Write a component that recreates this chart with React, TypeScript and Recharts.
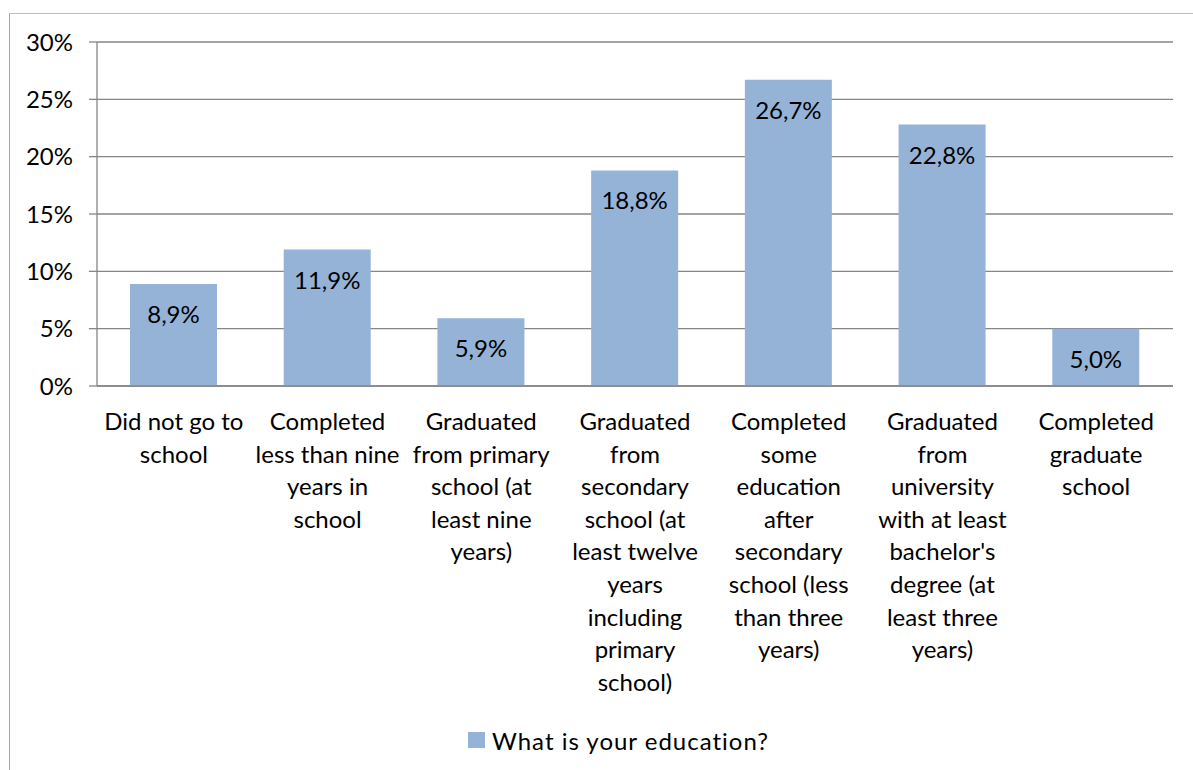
import { BarChart, Bar, XAxis, YAxis, CartesianGrid, Legend, LabelList } from "recharts";

const categories = [
  "Did not go to school",
  "Completed less than nine years in school",
  "Graduated from primary school (at least nine years)",
  "Graduated from secondary school (at least twelve years including primary school)",
  "Completed some education after secondary school (less than three years)",
  "Graduated from university with at least bachelor's degree (at least three years)",
  "Completed graduate school",
];

// share of respondents, in percent
const shares = [8.9, 11.9, 5.9, 18.8, 26.7, 22.8, 5.0];

// category labels as they wrap in the original
const tickLines = [
  ["Did not go to", "school"],
  ["Completed", "less than nine", "years in", "school"],
  ["Graduated", "from primary", "school (at", "least nine", "years)"],
  ["Graduated", "from", "secondary", "school (at", "least twelve", "years", "including", "primary", "school)"],
  ["Completed", "some", "education", "after", "secondary", "school (less", "than three", "years)"],
  ["Graduated", "from", "university", "with at least", "bachelor's", "degree (at", "least three", "years)"],
  ["Completed", "graduate", "school"],
];

const yTicks = [0, 5, 10, 15, 20, 25, 30];
const seriesName = "What is your education?";

const data = categories.map((c, i) => ({ category: c, value: shares[i] }));

const FONT = "Lato, 'Open Sans', sans-serif";
const BAR = "#95b3d7";
const GRID = "#868686";

const fmt = (v: number) => v.toFixed(1).replace(".", ",") + "%";

function CategoryTick(props: any) {
  const { x, y, payload } = props;
  const lines = tickLines[categories.indexOf(payload.value)] || [payload.value];
  return (
    <text x={x} y={y} textAnchor="middle" fontFamily={FONT} fontSize={24} fill="#000">
      {lines.map((l, i) => (
        <tspan key={i} x={x} y={y + 44 + i * 32.6}>
          {l}
        </tspan>
      ))}
    </text>
  );
}

function ValueLabel(props: any) {
  const { x, y, width, value } = props;
  return (
    <text x={x + width / 2} y={y + 39} textAnchor="middle" fontFamily={FONT} fontSize={24} fill="#000">
      {fmt(value)}
    </text>
  );
}

function LegendBox() {
  return (
    <div style={{ height: 40, display: "flex", alignItems: "center", paddingLeft: 468, fontFamily: FONT, fontSize: 24 }}>
      <span style={{ width: 17, height: 16, background: BAR, display: "inline-block", marginRight: 7 }} />
      <span style={{ color: "#000", letterSpacing: 1 }}>{seriesName}</span>
    </div>
  );
}

export default function App() {
  return (
    <div style={{ position: "absolute", left: 0, top: 0, width: 1193, height: 770, background: "#fff" }}>
      <div
        style={{
          position: "absolute",
          left: 9,
          top: 13,
          width: 1184,
          height: 757,
          boxSizing: "border-box",
          borderTop: "1px solid #bfbfbf",
          borderLeft: "1px solid #a6a6a6",
          pointerEvents: "none",
        }}
      />
      <BarChart width={1193} height={770} data={data} margin={{ top: 42, right: 20, left: 0, bottom: 10 }}>
        <CartesianGrid vertical={false} stroke={GRID} strokeWidth={1.3} />
        <XAxis
          dataKey="category"
          interval={0}
          height={334}
          tickLine={false}
          tickSize={0}
          tickMargin={0}
          axisLine={{ stroke: GRID, strokeWidth: 1.3 }}
          tick={<CategoryTick />}
        />
        <YAxis
          width={97}
          domain={[0, 30]}
          ticks={yTicks}
          tickFormatter={(v: number) => `${v}%`}
          tickSize={8}
          tickMargin={16}
          axisLine={{ stroke: GRID, strokeWidth: 1.3 }}
          tickLine={{ stroke: GRID, strokeWidth: 1.3 }}
          tick={{ fontFamily: FONT, fontSize: 24, fill: "#000" }}
        />
        <Legend verticalAlign="bottom" content={<LegendBox />} wrapperStyle={{ left: 0, width: 1193 }} />
        <Bar dataKey="value" name={seriesName} fill={BAR} barSize={87} isAnimationActive={false}>
          <LabelList dataKey="value" content={<ValueLabel />} />
        </Bar>
      </BarChart>
    </div>
  );
}
